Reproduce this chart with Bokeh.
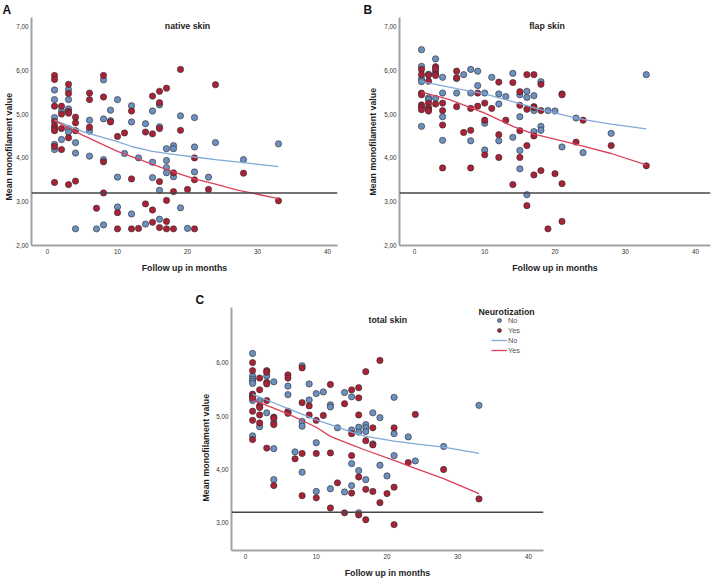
import math
from bokeh.plotting import figure
from bokeh.models import Range1d, FixedTicker, Span, Label, Legend, LegendItem, Spacer, CustomJSTickFormatter, Title
from bokeh.layouts import row, column
from bokeh.embed import file_html
from bokeh.resources import INLINE

# ---------------- data ----------------
X_TICKS = [0, 10, 20, 30, 40]
Y_TICKS_AB = [2, 3, 4, 5, 6, 7]
Y_TICKS_C = [3, 4, 5, 6]
THRESHOLD = 3.2

# Panel A: native skin
A_no_x = [1, 1, 1, 1, 1, 2, 2, 3, 3, 3, 3, 3, 4, 4, 4, 6, 6, 6, 7, 8, 8, 8, 8, 9, 9,
          10, 10, 10, 11, 12, 12, 12, 13, 14, 14, 15, 15, 15, 16, 16, 16, 16, 17, 17, 17, 17,
          18, 18, 18, 19, 19, 20, 21, 21, 21, 23, 24, 28, 33]
A_no_y = [5.55, 5.33, 4.92, 4.31, 4.19, 5.07, 4.42, 5.56, 5.33, 5.12, 4.67, 4.59, 4.35, 4.11, 2.38,
          4.86, 4.61, 4.04, 2.38, 5.78, 4.89, 3.96, 2.47, 5.09, 4.85, 5.33, 3.56, 2.88, 4.10,
          5.19, 4.82, 2.72, 4.00, 4.78, 2.49, 5.07, 3.90, 3.55, 5.21, 4.71, 3.26, 2.60,
          4.21, 3.94, 3.78, 3.66, 4.28, 4.21, 3.57, 4.96, 2.86, 2.39, 4.92, 4.25, 3.68,
          3.56, 4.35, 3.96, 4.32]
A_yes_x = [1, 1, 1, 1, 1, 1, 1, 1, 1, 2, 2, 2, 2, 3, 3, 3, 3, 3, 3, 4, 4, 4, 4, 6, 6, 6, 7,
           8, 8, 8, 8, 9, 10, 10, 10, 11, 12, 12, 12, 13, 14, 14, 15, 15, 15, 15,
           16, 16, 16, 16, 16, 17, 17, 17, 17, 18, 18, 18, 19, 19, 20, 21, 21, 21, 23, 24, 28, 33]
A_yes_y = [5.88, 5.79, 5.18, 4.83, 4.73, 4.67, 4.62, 4.26, 3.44, 5.18, 5.00, 4.67, 4.19,
           5.68, 5.47, 5.06, 5.02, 4.46, 3.39, 4.93, 4.80, 4.62, 3.47, 5.48, 5.33, 4.70, 2.85,
           5.88, 5.39, 3.91, 3.20, 4.82, 4.49, 2.75, 2.38, 4.57, 5.07, 3.52, 2.38, 2.39,
           4.59, 2.95, 5.41, 4.55, 2.81, 2.53, 5.52, 5.26, 4.67, 3.46, 2.41,
           5.59, 3.03, 2.55, 2.38, 3.66, 3.23, 2.38, 6.02, 4.63, 3.28, 4.00, 3.50, 2.38,
           3.28, 5.67, 3.65, 3.02]
A_fit_no_x = [1, 5, 10, 12, 15, 18, 21, 24, 28, 33]
A_fit_no_y = [4.86, 4.60, 4.37, 4.26, 4.15, 4.08, 4.02, 3.96, 3.89, 3.80]
A_fit_yes_x = [1, 5, 10, 13, 15, 18, 21, 24, 27, 30, 33]
A_fit_yes_y = [4.85, 4.52, 4.15, 3.97, 3.85, 3.68, 3.52, 3.40, 3.27, 3.17, 3.07]

# Panel B: flap skin
B_no_x = [1, 1, 1, 1, 1, 2, 2, 2, 3, 3, 3, 4, 4, 4, 4, 6, 6, 7, 8, 8, 8, 9, 9, 10, 10, 10,
          11, 12, 12, 12, 13, 14, 14, 15, 15, 15, 15, 16, 16, 16, 17, 17, 17, 18, 18, 18,
          19, 20, 21, 23, 24, 28, 33]
B_no_y = [6.47, 6.09, 5.80, 5.74, 4.72, 5.91, 5.37, 5.33, 6.26, 5.98, 5.36, 5.84, 5.48, 4.94, 4.40,
          5.81, 5.48, 5.90, 6.02, 5.48, 4.39, 5.98, 5.65, 5.48, 4.79, 4.18, 5.84, 5.46, 5.23, 4.39,
          5.40, 5.93, 4.47, 5.44, 4.94, 4.17, 3.75, 5.52, 5.38, 3.16, 5.42, 5.08, 4.60,
          5.74, 4.72, 4.63, 5.08, 5.07, 4.25, 4.91, 4.12, 4.56, 5.90]
B_yes_x = [1, 1, 1, 1, 1, 1, 1, 2, 2, 2, 2, 2, 2, 3, 3, 3, 3, 3, 4, 4, 4, 4, 6, 6, 6, 7,
           8, 8, 8, 9, 9, 10, 10, 10, 11, 12, 12, 12, 13, 14, 14, 15, 15, 15, 15,
           16, 16, 16, 16, 17, 17, 17, 17, 17, 18, 18, 18, 19, 20, 21, 21, 21, 21, 23, 24, 28, 33]
B_yes_y = [6.02, 5.90, 5.48, 5.44, 5.21, 5.16, 5.10, 5.89, 5.75, 5.25, 5.15, 5.10, 5.07,
           6.08, 6.03, 5.91, 5.88, 5.23, 5.25, 5.08, 4.75, 3.77, 5.98, 5.83, 5.17, 4.58,
           5.13, 4.63, 3.77, 5.48, 5.18, 5.25, 4.86, 4.07, 5.13, 5.73, 4.53, 4.01, 4.86,
           5.72, 3.39, 5.51, 5.20, 4.62, 4.01, 5.90, 5.11, 4.28, 2.91,
           5.90, 5.17, 5.15, 4.50, 3.61, 5.68, 5.08, 3.71, 2.38, 3.64,
           5.46, 5.44, 3.41, 2.55, 4.36, 4.86, 4.28, 3.82]
B_fit_no_x = [1, 3, 6, 10, 15, 18, 21, 23, 26, 28, 33]
B_fit_no_y = [5.74, 5.68, 5.58, 5.46, 5.24, 5.10, 4.99, 4.91, 4.82, 4.77, 4.66]
B_fit_yes_x = [1, 5, 10, 14, 17, 21, 24, 28, 33]
B_fit_yes_y = [5.50, 5.33, 5.02, 4.72, 4.54, 4.39, 4.27, 4.10, 3.84]

# Panel C: total skin
C_no_x = [1, 1, 1, 1, 1, 1, 1, 2, 2, 3, 3, 4, 4, 4, 4, 6, 6, 6, 7, 8, 8, 8, 8, 9, 9,
          10, 10, 10, 11, 12, 12, 12, 13, 14, 14, 15, 15, 15, 15, 16, 16, 16, 16,
          17, 17, 17, 17, 18, 18, 19, 19, 20, 21, 21, 21, 23, 24, 28, 33]
C_no_y = [6.17, 5.75, 5.69, 5.65, 5.61, 5.29, 4.63, 5.29, 4.80, 5.75, 5.06, 5.64, 4.88, 4.39, 3.81,
          5.56, 5.40, 5.07, 4.33, 5.94, 4.90, 4.81, 3.95, 5.60, 5.30, 5.42, 4.50, 3.59, 5.45,
          5.21, 5.17, 3.64, 4.78, 5.44, 3.58, 5.36, 4.74, 4.11, 3.70, 4.79, 4.70, 3.98, 3.19,
          4.84, 4.78, 4.71, 3.81, 5.06, 4.48, 4.97, 4.08, 3.88, 5.35, 4.67, 4.26,
          4.61, 4.16, 4.43, 5.20]
C_yes_x = [1, 1, 1, 1, 1, 1, 1, 1, 2, 2, 2, 2, 2, 2, 3, 3, 3, 3, 3, 3, 4, 4, 4, 4,
           6, 6, 6, 6, 7, 8, 8, 8, 8, 9, 9, 10, 10, 10, 11, 12, 12, 12, 13, 14, 14,
           15, 15, 15, 15, 16, 16, 16, 16, 16, 17, 17, 17, 17, 18, 18, 18, 19, 19, 20,
           21, 21, 21, 23, 24, 28, 33]
C_yes_y = [6.00, 5.85, 5.41, 5.37, 5.34, 5.09, 4.92, 4.56, 5.71, 5.49, 5.19, 5.16, 5.02, 4.87,
           5.85, 5.82, 5.63, 5.60, 5.29, 4.40, 4.98, 4.96, 4.84, 3.70,
           5.77, 5.71, 5.09, 5.05, 4.20, 5.90, 5.25, 4.30, 3.51, 5.19, 5.02, 4.92, 4.30, 3.47,
           5.01, 5.59, 4.31, 3.28, 3.75, 5.23, 3.19, 5.49, 4.67, 4.26, 3.56,
           5.53, 5.34, 5.02, 3.86, 3.15, 5.83, 4.54, 3.63, 3.06, 4.78, 4.46, 3.59, 6.04, 3.38,
           3.55, 4.78, 3.67, 2.97, 4.13, 5.03, 4.00, 3.45]
C_fit_x = [1, 3, 6, 10, 12, 15, 17, 21, 24, 28, 33]
C_fit_no_y = [5.41, 5.30, 5.14, 4.93, 4.84, 4.70, 4.62, 4.53, 4.48, 4.42, 4.30]
C_fit_yes_y = [5.30, 5.20, 5.04, 4.79, 4.62, 4.46, 4.36, 4.17, 4.02, 3.83, 3.55]

# ---------------- styling ----------------
FONT = "Liberation Sans"
BLUE_FILL = "#6c90c0"
RED_FILL = "#aa2238"
BLUE_LINE = "#82a9d8"
RED_LINE = "#dc4059"
MARK_LINE = "#2a2a2a"
AXIS_COLOR = "#a3a3a3"
TEXT_COLOR = "#1e1e1e"
Y_TITLE = "Mean monofilament value"

YFMT = CustomJSTickFormatter(code="return tick.toFixed(2).replace('.', ',');")


def panel(letter, letter_offset, ytitle_offset, ytitle_standoff, width, height, xr, yr, yticks,
          mbl, mbr, mbt, mbb):
    p = figure(width=width, height=height, x_range=Range1d(*xr), y_range=Range1d(*yr),
               output_backend="svg", toolbar_location=None, title=letter,
               min_border_left=mbl, min_border_right=mbr, min_border_top=mbt, min_border_bottom=mbb)
    p.title.align = "left"
    p.title.offset = letter_offset
    p.title.standoff = 1
    p.title.text_font = FONT
    p.title.text_font_size = "12px"
    p.title.text_font_style = "bold"
    p.title.text_color = "#111111"
    p.outline_line_color = None
    p.grid.visible = False
    p.background_fill_color = "white"
    p.border_fill_color = "white"
    p.xaxis.ticker = FixedTicker(ticks=X_TICKS)
    p.yaxis.ticker = FixedTicker(ticks=yticks)
    p.yaxis.formatter = YFMT
    for ax in (p.xaxis[0], p.yaxis[0]):
        ax.axis_line_color = AXIS_COLOR
        ax.axis_line_width = 2
        ax.major_tick_line_color = None
        ax.minor_tick_line_color = None
        ax.major_tick_out = 0
        ax.major_tick_in = 0
        ax.minor_tick_out = 0
        ax.major_label_text_font = FONT
        ax.major_label_text_font_size = "6.3px"
        ax.major_label_text_color = "#333333"
        ax.major_label_standoff = 3
    p.xaxis.axis_label = "Follow up in months"
    p.xaxis.axis_label_text_font = FONT
    p.xaxis.axis_label_text_font_size = "8.8px"
    p.xaxis.axis_label_text_font_style = "bold"
    p.xaxis.axis_label_text_color = TEXT_COLOR
    p.xaxis.axis_label_standoff = 6
    p.add_layout(Title(text=Y_TITLE, align="left", offset=ytitle_offset, standoff=ytitle_standoff,
                       text_font=FONT, text_font_size="8.8px", text_font_style="bold",
                       text_color=TEXT_COLOR), "left")
    return p


def txt(p, text, x, y, size="8.8px", align="center"):
    p.add_layout(Label(x=x, y=y, text=text, text_font=FONT,
                       text_font_size=size, text_font_style="bold", text_color=TEXT_COLOR,
                       text_align=align, text_baseline="middle"))


def draw(p, nx, ny, yx, yy, fnx, fny, fyx, fyy):
    rn = p.scatter(nx, ny, size=6.3, marker="circle", fill_color=BLUE_FILL, line_color=MARK_LINE, line_width=0.6)
    ry = p.scatter(yx, yy, size=6.3, marker="circle", fill_color=RED_FILL, line_color=MARK_LINE, line_width=0.6)
    ln = p.line(fnx, fny, line_color=BLUE_LINE, line_width=1.3)
    ly = p.line(fyx, fyy, line_color=RED_LINE, line_width=1.3)
    p.add_layout(Span(location=THRESHOLD, dimension="width", line_color="#454545", line_width=1.4))
    return rn, ry, ln, ly


# Panel A (page x 0..358, y 0..290); frame x 31..337, y 16..245
pa = panel("A", -29, 45, 0, 358, 290, (-2.29, 41.43), (2.0, 7.2045), Y_TICKS_AB, 31, 21, 16, 45)
draw(pa, A_no_x, A_no_y, A_yes_x, A_yes_y, A_fit_no_x, A_fit_no_y, A_fit_yes_x, A_fit_yes_y)
txt(pa, "native skin", 20, 7.02)

# Panel B (page x 358..712); frame x 399..710
pb = panel("B", -36, 50, 8, 354, 290, (-2.135, 42.14), (2.0, 7.2045), Y_TICKS_AB, 41, 2, 16, 45)
draw(pb, B_no_x, B_no_y, B_yes_x, B_yes_y, B_fit_no_x, B_fit_no_y, B_fit_yes_x, B_fit_yes_y)
txt(pb, "flap skin", 18.86, 7.0)

# Panel C (page x 192..548, y 290..580); frame x 231..543, y 306..553
pc = panel("C", -36, 49, 6, 356, 290, (-1.98, 42.12), (2.485, 7.03), Y_TICKS_C, 39, 5, 16, 27)
rn, ry, ln, ly = draw(pc, C_no_x, C_no_y, C_yes_x, C_yes_y, C_fit_x, C_fit_no_y, C_fit_x, C_fit_yes_y)
txt(pc, "total skin", 20.11, 6.79)
txt(pc, "Neurotization", 32.93, 6.94, align="left")

legend = Legend(items=[LegendItem(label="No", renderers=[rn]),
                       LegendItem(label="Yes", renderers=[ry]),
                       LegendItem(label="No", renderers=[ln]),
                       LegendItem(label="Yes", renderers=[ly])],
                location=(260, 195), orientation="vertical")
legend.glyph_width = 16
legend.glyph_height = 10
legend.label_height = 10
legend.spacing = 0
legend.padding = 0
legend.margin = 0
legend.label_standoff = 1
legend.border_line_color = None
legend.background_fill_alpha = 0
legend.label_text_font = FONT
legend.label_text_font_size = "7.4px"
legend.label_text_color = "#555555"
legend.label_text_baseline = "middle"
pc.add_layout(legend)

layout = column(row(pa, pb), row(Spacer(width=192, height=290), pc))

with open("out.html", "w") as f:
    f.write(file_html(layout, INLINE))
